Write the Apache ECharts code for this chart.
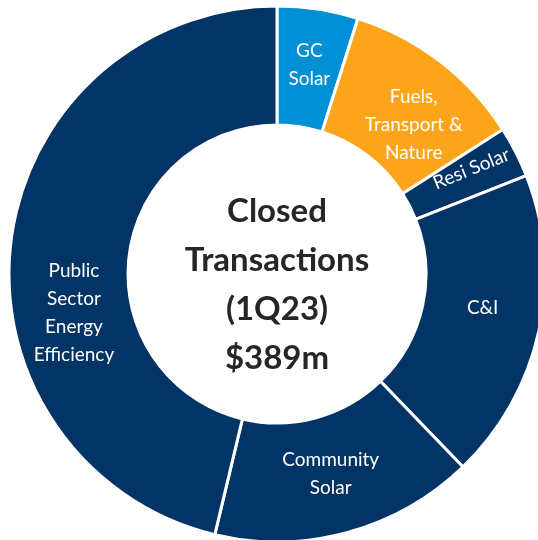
<!DOCTYPE html>
<html>
<head>
    <meta charset="utf-8">
    <script type="text/javascript" src="https://cdn.jsdelivr.net/npm/echarts@6/dist/echarts.min.js"></script>
    <style type="text/css">
        *{ margin: 0; padding: 0; }
        #main{ width: 538px; height: 540px; background: #ffffff; }
    </style>
</head>
<body>
    <div id="main"></div>
    <script type="text/javascript">
        // segments, clockwise from 12 o'clock ($m)
        var segNames = ['GC\nSolar', 'Fuels,\nTransport &\nNature', 'Resi Solar', 'C&I', 'Community\nSolar', 'Public\nSector\nEnergy\nEfficiency'];
        var segValues = [19, 43, 12, 73, 62, 180];
        var segColors = ['#0190d5', '#fca51b', '#033466', '#033466', '#033466', '#033466'];
        var centerLines = ['Closed', 'Transactions', '(1Q23)', '$389m'];

        // small nudges so labels sit where the original has them
        var labelNudge = [[0, 0], [8, 19], [9, -6], [-1, -11], [-2, -4], [7, 64]];

        var myChart = echarts.init(document.getElementById('main'));

        var data = segNames.map(function (n, i) {
            var d = { name: n, value: segValues[i], itemStyle: { color: segColors[i] } };
            if (n === 'Resi Solar') {
                d.label = { rotate: 22 };
            }
            return d;
        });

        var option = {
            backgroundColor: '#ffffff',
            animation: false,
            series: [{
                type: 'pie',
                center: [277, 274],
                radius: [149, 268],
                startAngle: 90,
                clockwise: true,
                avoidLabelOverlap: false,
                itemStyle: {
                    borderColor: '#ffffff',
                    borderWidth: 3
                },
                label: {
                    show: true,
                    position: 'inside',
                    formatter: '{b}',
                    color: '#ffffff',
                    fontFamily: 'Lato',
                    fontSize: 19,
                    lineHeight: 28,
                    align: 'center'
                },
                labelLine: { show: false },
                labelLayout: function (params) {
                    var n = labelNudge[params.dataIndex];
                    return { dx: n[0], dy: n[1] };
                },
                emphasis: { disabled: true },
                data: data
            }],
            graphic: [{
                type: 'text',
                x: 277,
                y: 285,
                style: {
                    text: centerLines.join('\n'),
                    fill: '#262626',
                    font: 'bold 33px Lato',
                    lineHeight: 49,
                    align: 'center',
                    verticalAlign: 'middle'
                }
            }]
        };
        myChart.setOption(option);
    </script>
</body>
</html>
